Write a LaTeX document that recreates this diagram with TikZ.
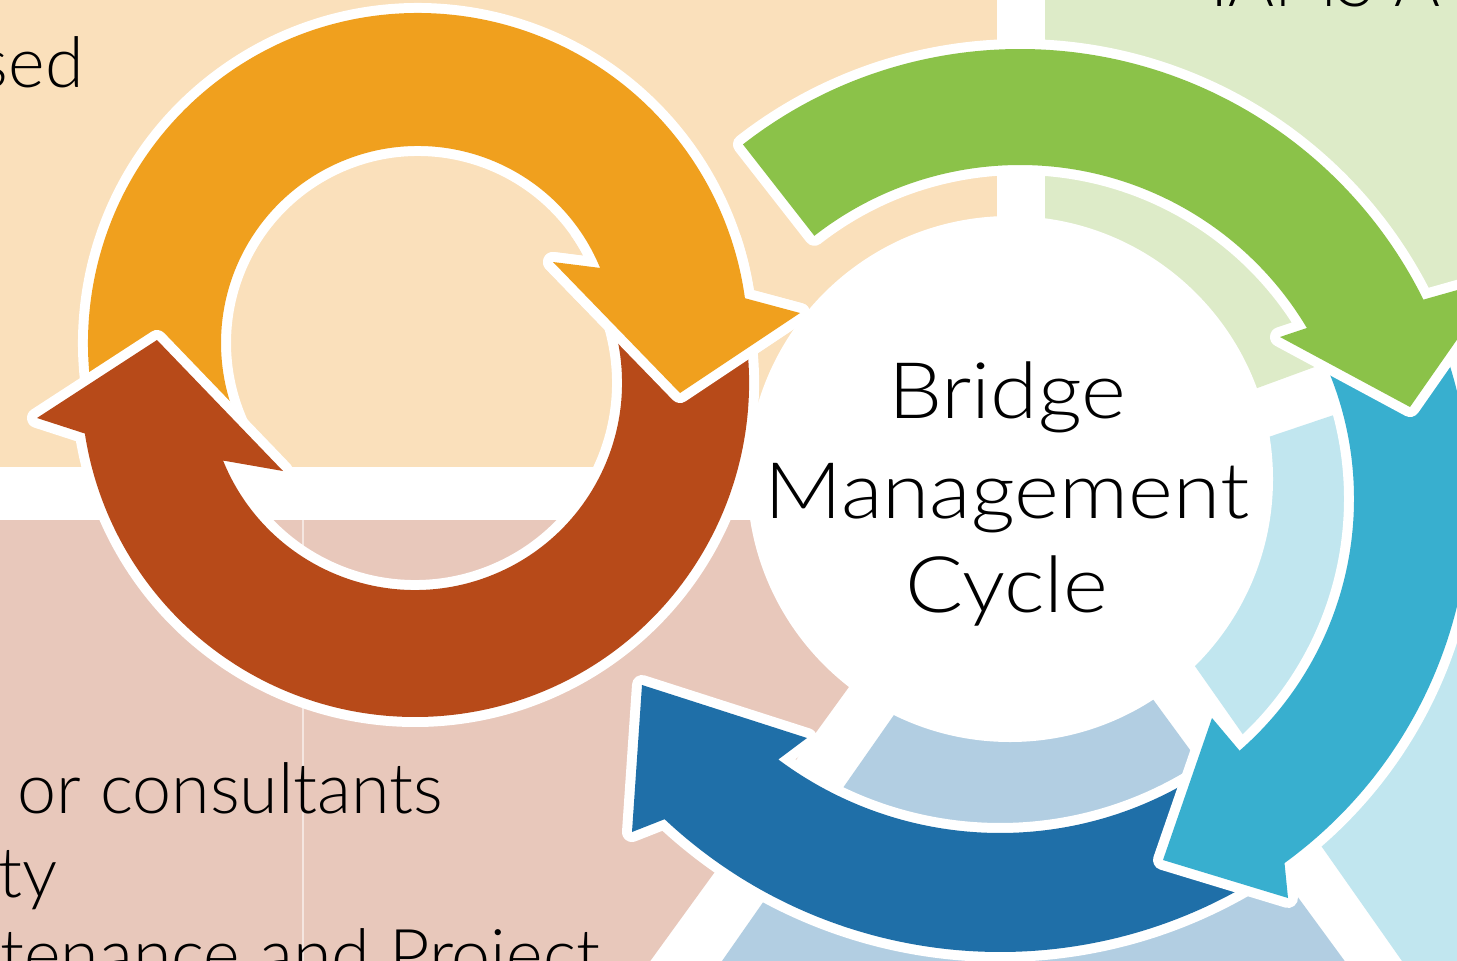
\documentclass[tikz,border=0pt]{standalone}
\usepackage{fontspec}
\setmainfont{Lato}
\newfontfamily\titlefont[FakeStretch=1.1]{Lato Light}
\newfontfamily\bodyfont{Lato Light}
\usetikzlibrary{calc}

\definecolor{peach}{RGB}{250,224,187}
\definecolor{palegreen}{RGB}{221,235,200}
\definecolor{paleteal}{RGB}{193,230,239}
\definecolor{paleblue}{RGB}{178,206,226}
\definecolor{palerose}{RGB}{232,200,187}
\definecolor{arrorange}{RGB}{240,160,30}
\definecolor{arrbrown}{RGB}{183,74,25}
\definecolor{arrgreen}{RGB}{139,194,73}
\definecolor{arrteal}{RGB}{56,175,207}
\definecolor{arrblue}{RGB}{31,111,168}

\begin{document}
\begin{tikzpicture}[x=1pt,y=-1pt,
    ringarrow/.style={fill=#1, preaction={draw=white, line width=20pt, line join=round}},
    title/.style={anchor=base, inner sep=0pt, font=\titlefont\fontsize{78}{94}\selectfont},
    body/.style={inner sep=0pt, font=\bodyfont\fontsize{70}{84}\selectfont}]
    \useasboundingbox (0,0) rectangle (1457,961);
    \clip (0,0) rectangle (1457,961);
    \fill[white] (0,0) rectangle (1457,961);

    \coordinate (oc)    at (418,343);
    \coordinate (bc)    at (415,383);
    \coordinate (cyc)   at (1020,499);
    \coordinate (bluec) at (1000,462);
    \coordinate (hub)   at (1010,479);

    % panels behind the cycle
    \fill[peach]     (-10,-10) rectangle (997,467);
    \fill[palegreen] (1045,-10) -- (1467,-10) -- (1467,311) -- (1045,466) -- cycle;
    \fill[paleteal]  (1079,501) -- (1467,370) -- (1467,971) -- (1409,971) -- cycle;
    \fill[paleblue]  (1026,526) -- (1352,971) -- (715,971) -- cycle;
    \fill[palerose]  (-10,520) -- (970,520) -- (643,971) -- (-10,971) -- cycle;
    \draw[white!55!palerose, line width=1.2pt] (303,520) -- (303,971);

    \fill[white] (hub) circle[radius=263];

    % left pair of arrows
    \path[ringarrow=arrorange] ($(oc)+(145:330)$) arc[start angle=145, end angle=352.2, radius=330]
        -- (800,313) -- (680,393) -- (553,262) -- ($(oc)+(337.6:197)$)
        arc[start angle=337.6, end angle=145, radius=197] -- cycle;
    \path[ringarrow=arrbrown] ($(bc)+(-22:334)$) arc[start angle=-22, end angle=171.3, radius=334]
        -- (37,418) -- (157,340) -- (283,471) -- ($(bc)+(158:207)$)
        arc[start angle=158, end angle=-22, radius=207] -- cycle;
    \begin{scope}
        \clip (540,235) rectangle (830,420);
        \path[ringarrow=arrorange] ($(oc)+(145:330)$) arc[start angle=145, end angle=352.2, radius=330]
            -- (800,313) -- (680,393) -- (553,262) -- ($(oc)+(337.6:197)$)
            arc[start angle=337.6, end angle=145, radius=197] -- cycle;
    \end{scope}

    % cycle arrows
    \path[ringarrow=arrblue] ($(bluec)+(57:490)$) arc[start angle=57, end angle=133.2, radius=490]
        -- (632,832) -- (642,685) -- (807,738) -- ($(bluec)+(126.7:371)$)
        arc[start angle=126.7, end angle=57, radius=371] -- cycle;
    \path[ringarrow=arrteal] ($(cyc)+(-27:450)$) arc[start angle=-27, end angle=54, radius=450]
        -- (1288,898) -- (1163,860) -- (1212,718) -- ($(cyc)+(48.9:334)$)
        arc[start angle=48.9, end angle=-27, radius=334] -- cycle;
    \path[ringarrow=arrgreen] ($(cyc)+(-128:450)$) arc[start angle=-128, end angle=-26.3, radius=450]
        -- (1500,278) -- (1410,407) -- (1280,337) -- ($(cyc)+(-30.8:334)$)
        arc[start angle=-30.8, end angle=-128, radius=334] -- cycle;

    \node[title] (bridge) at (1007,418) {Bridge};
    \node[title] (mgmt)   at (1007,518) {Management};
    \node[title] (cycle)  at (1007,612) {Cycle};

    \node[body, anchor=base east] (based)   at (84,87)   {sed};
    \node[body, anchor=base west] (iams)    at (1210,6)  {IAMS A};
    \node[body, anchor=base west] (consult) at (17,813)  {or consultants};
    \node[body, anchor=base east] (quality) at (58,897)  {ty};
    \node[body, anchor=base east] (project) at (600,979) {tenance and Project};
\end{tikzpicture}
\end{document}
